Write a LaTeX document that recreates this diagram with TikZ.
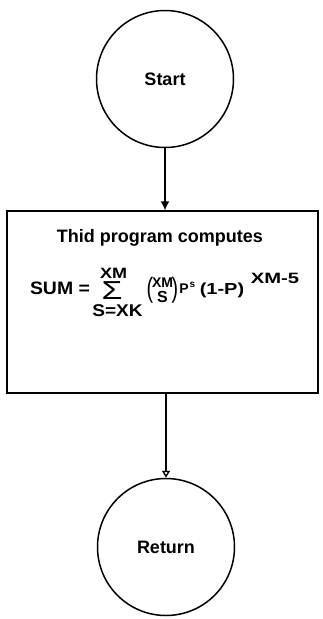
\documentclass[tikz,border=0pt]{standalone}
\usepackage{fontspec}
\setmainfont{Liberation Sans}
\usetikzlibrary{arrows.meta}
\begin{document}
\begin{tikzpicture}[x=1pt,y=-1pt,
  circ/.style={draw,circle,line width=1.5pt,minimum size=137pt,inner sep=0pt,font=\fontsize{18}{20}\selectfont\bfseries},
  boxs/.style={draw,line width=1.4pt,minimum width=311pt,minimum height=182pt,inner sep=0pt},
  conn/.style={line width=1.4pt},
  txt/.style={inner sep=0pt,font=\bfseries}]
\useasboundingbox (0,0) rectangle (323,619);
\node[circ] (start) at (165,79) {Start};
\node[boxs] (box) at (162.5,302) {};
\node[circ] (ret) at (166,547) {Return};
\draw[conn,-{Latex[length=9pt,width=9pt]}] (start.south) -- (start.south |- box.north);
\draw[conn,-{Triangle[open,length=7pt,width=8pt]}] (ret.north |- box.south) -- (ret.north);
\node[txt,font=\fontsize{18}{20}\selectfont\bfseries] (title) at (160,238) {Thid program computes};
\node[txt,font=\fontsize{18}{20}\selectfont\bfseries,xscale=1.08] (sum) at (60,288.5) {SUM =};
\node[txt,font=\fontsize{15}{16}\selectfont\bfseries,xscale=1.2] (up) at (113.5,273) {XM};
\node[txt,font=\fontsize{26}{26}\selectfont,xscale=1.3] (sig) at (112,291) {Σ};
\node[txt,font=\fontsize{17}{18}\selectfont\bfseries,xscale=1.12] (lo) at (117.5,311) {S=XK};
\node[txt,font=\fontsize{28}{28}\selectfont,xscale=0.7] (lp) at (150,290) {(};
\node[txt,font=\fontsize{28}{28}\selectfont,xscale=0.7] (rp) at (175,290) {)};
\node[txt,font=\fontsize{14}{16}\selectfont\bfseries] (bt) at (162.5,283) {XM};
\node[txt,font=\fontsize{16}{18}\selectfont\bfseries] (bb) at (162.5,296.5) {S};
\node[txt,font=\fontsize{14}{16}\selectfont\bfseries] (p) at (184,289) {P};
\node[txt,font=\fontsize{10}{12}\selectfont\bfseries] (ps) at (192.5,285) {s};
\node[txt,font=\fontsize{16}{18}\selectfont\bfseries,xscale=1.25] (q) at (222,290) {(1-P)};
\node[txt,font=\fontsize{15}{16}\selectfont\bfseries,xscale=1.35] (ex) at (275,278) {XM-5};
\end{tikzpicture}
\end{document}
